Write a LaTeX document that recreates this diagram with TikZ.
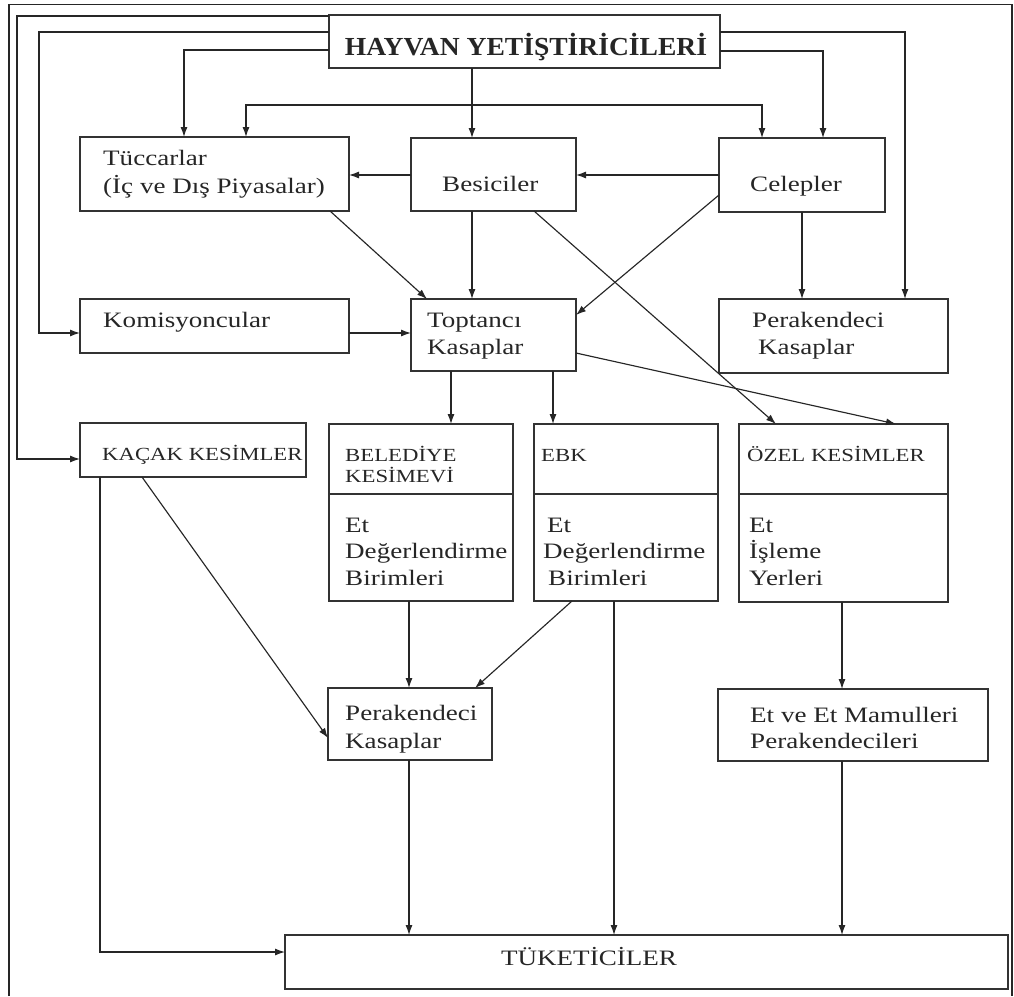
\documentclass[tikz,border=0pt]{standalone}
\usepackage{fontspec}
\setmainfont{Liberation Serif}[FakeStretch=1.23]
\newfontfamily\hdfont{Liberation Serif}[FakeStretch=1.06]
\usetikzlibrary{arrows.meta}
\newcommand\lblfont{\fontsize{22}{27}\selectfont}
\newcommand\capsfont{\fontsize{18.5}{21}\selectfont}
\newcommand\headfont{\hdfont\bfseries\fontsize{26}{30}\selectfont}
\begin{document}
\begin{tikzpicture}[x=1pt,y=-1pt,
  box/.style={draw=black!80, line width=1.3pt, anchor=north west,
    inner sep=0pt, outer sep=0pt},
  lbl/.style={anchor=base west, inner sep=0pt, font=\lblfont, text=black!85},
  caps/.style={lbl, font=\capsfont},
  arr/.style={draw=black!85, line width=1.15pt, -{Latex[length=10pt,width=7pt]}},
  arrs/.style={draw=black!85, line width=1.15pt,
    {Latex[length=10pt,width=7pt]}-{Latex[length=10pt,width=7pt]}}]
\useasboundingbox (0,0) rectangle (1014,996);
% outer frame
\draw[line width=1.7pt, black!85] (9,996) -- (9,4.5) -- (1012,4.5) -- (1012,996);

% boxes
\node[box, minimum width=391pt, minimum height=53pt] (hy) at (329,15) {};
\node[box, minimum width=269pt, minimum height=74pt] (tuc) at (80,137) {};
\node[box, minimum width=165pt, minimum height=73pt] (bes) at (411,138) {};
\node[box, minimum width=166pt, minimum height=74pt] (cel) at (719,138) {};
\node[box, minimum width=269pt, minimum height=54pt] (kom) at (80,299) {};
\node[box, minimum width=165pt, minimum height=72pt] (top) at (411,299) {};
\node[box, minimum width=229pt, minimum height=74pt] (perA) at (719,299) {};
\node[box, minimum width=226pt, minimum height=54pt] (kac) at (80,423) {};
\node[box, minimum width=184pt, minimum height=70pt] (bel) at (329,424) {};
\node[box, minimum width=184pt, minimum height=107pt] (belb) at (329,494) {};
\node[box, minimum width=184pt, minimum height=70pt] (ebk) at (534,424) {};
\node[box, minimum width=184pt, minimum height=107pt] (ebkb) at (534,494) {};
\node[box, minimum width=209pt, minimum height=70pt] (ozel) at (739,424) {};
\node[box, minimum width=209pt, minimum height=108pt] (ozelb) at (739,494) {};
\node[box, minimum width=164pt, minimum height=72pt] (perB) at (328,688) {};
\node[box, minimum width=270pt, minimum height=72pt] (etm) at (718,689) {};
\node[box, minimum width=723pt, minimum height=54pt] (tuk) at (285,935) {};

% labels
\node[anchor=base, inner sep=0pt, font=\headfont, text=black!85] (thy) at (526,55) {HAYVAN YETİŞTİRİCİLERİ};
\node[lbl] (ttuc1) at (103,165) {Tüccarlar};
\node[lbl] (ttuc2) at (103,193) {(İç ve Dış Piyasalar)};
\node[lbl] (tbes) at (442,191) {Besiciler};
\node[lbl] (tcel) at (750,191) {Celepler};
\node[lbl] (tkom) at (103,327) {Komisyoncular};
\node[lbl] (ttop1) at (427,327) {Toptancı};
\node[lbl] (ttop2) at (427,354) {Kasaplar};
\node[lbl] (tperA1) at (752,327) {Perakendeci};
\node[lbl] (tperA2) at (758,354) {Kasaplar};
\node[caps] (tkac) at (102,460) {KAÇAK KESİMLER};
\node[caps] (tbel1) at (345,461) {BELEDİYE};
\node[caps] (tbel2) at (345,482) {KESİMEVİ};
\node[caps] (tebk) at (541,461) {EBK};
\node[caps] (tozel) at (747,461) {ÖZEL KESİMLER};
\node[lbl] (tbelb1) at (345,532) {Et};
\node[lbl] (tbelb2) at (345,558) {Değerlendirme};
\node[lbl] (tbelb3) at (345,585) {Birimleri};
\node[lbl] (tebkb1) at (547,532) {Et};
\node[lbl] (tebkb2) at (543,558) {Değerlendirme};
\node[lbl] (tebkb3) at (548,585) {Birimleri};
\node[lbl] (tozelb1) at (749,532) {Et};
\node[lbl] (tozelb2) at (749,558) {İşleme};
\node[lbl] (tozelb3) at (749,585) {Yerleri};
\node[lbl] (tperB1) at (345,720) {Perakendeci};
\node[lbl] (tperB2) at (345,748) {Kasaplar};
\node[lbl] (tetm1) at (750,722) {Et ve Et Mamulleri};
\node[lbl] (tetm2) at (750,748) {Perakendecileri};
\node[anchor=base, inner sep=0pt, font=\lblfont, text=black!85] (ttuk) at (589,965) {TÜKETİCİLER};

% connectors from the breeders
\draw[arr] (hy.west |- 0,16) -| (17,459) -- (kac.west |- 0,459);
\draw[arr] (hy.west |- 0,32) -| (39,333) -- (kom.west |- 0,333);
\draw[arr] (hy.west |- 0,50) -| (tuc.north -| 184,0);
\draw[arr] (hy.south -| 472,0) -- (bes.north -| 472,0);
\draw[arr] (hy.east |- 0,51) -| (cel.north -| 823,0);
\draw[arr] (hy.east |- 0,32) -| (perA.north -| 905,0);

% second row
\draw[arrs] (tuc.north -| 246,0) |- (762,105) -- (cel.north -| 762,0);
\draw[arr] (bes.west |- 0,175) -- (tuc.east |- 0,175);
\draw[arr] (cel.west |- 0,175) -- (bes.east |- 0,175);
\draw[arr] (tuc.south -| 330,0) -- (top.north -| 427,0);
\draw[arr] (bes.south -| 472,0) -- (top.north -| 472,0);
\draw[arr] (cel.west |- 0,195) -- (top.east |- 0,315);
\draw[arr] (bes.south -| 534,0) -- (ozel.north -| 776,0);
\draw[arr] (cel.south -| 802,0) -- (perA.north -| 802,0);

% wholesale level
\draw[arr] (kom.east |- 0,333) -- (top.west |- 0,333);
\draw[arr] (top.east |- 0,353) -- (ozel.north -| 896,0);
\draw[arr] (top.south -| 451,0) -- (bel.north -| 451,0);
\draw[arr] (top.south -| 553,0) -- (ebk.north -| 553,0);

% slaughter and retail
\draw[arr] (kac.south -| 100,0) |- (tuk.west |- 0,952);
\draw[arr] (kac.south -| 142,0) -- (perB.west |- 0,738);
\draw[arr] (belb.south -| 409,0) -- (perB.north -| 409,0);
\draw[arr] (ebkb.south -| 572,0) -- (perB.north -| 475,0);
\draw[arr] (ebkb.south -| 614,0) -- (tuk.north -| 614,0);
\draw[arr] (ozelb.south -| 842,0) -- (etm.north -| 842,0);
\draw[arr] (perB.south -| 409,0) -- (tuk.north -| 409,0);
\draw[arr] (etm.south -| 842,0) -- (tuk.north -| 842,0);
\end{tikzpicture}
\end{document}
